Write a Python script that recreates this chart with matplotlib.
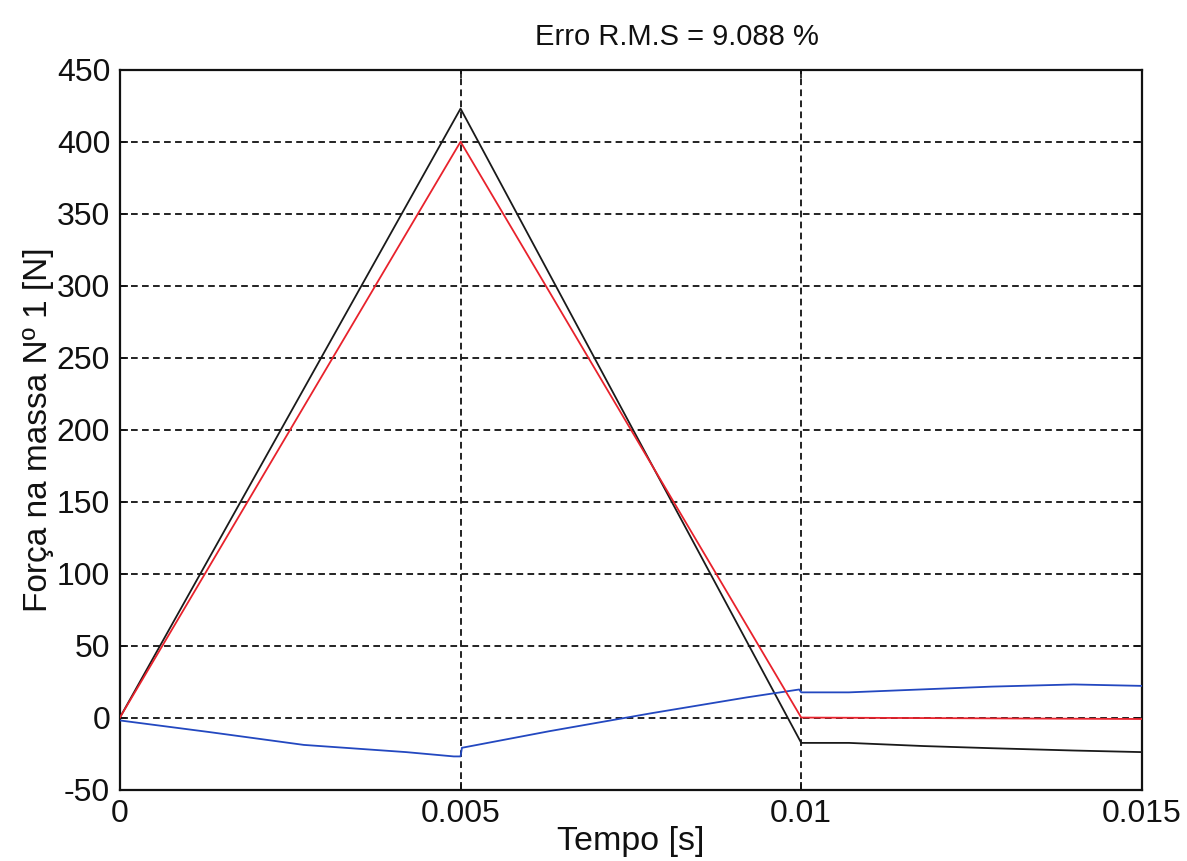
import matplotlib
matplotlib.use("Agg")
import matplotlib.pyplot as plt
from matplotlib.ticker import FixedLocator, FixedFormatter

plt.rcParams['font.family'] = ['Liberation Sans', 'DejaVu Sans']
plt.rcParams['axes.unicode_minus'] = False

# Measured force (black), model force (red) and difference signal (blue)
t_medido = [0.0, 0.0050, 0.0100, 0.0107, 0.0118, 0.0128, 0.0140, 0.0150]
f_medido = [0.0, 423.0, -17.6, -17.6, -19.8, -21.3, -22.9, -24.0]

t_modelo = [0.0, 0.0050, 0.0100, 0.0150]
f_modelo = [0.0, 400.0, 0.0, -1.0]

t_erro = [0.0, 0.0013, 0.0027, 0.0042, 0.0049, 0.0050, 0.00502, 0.0063,
          0.0078, 0.0092, 0.00997, 0.0100, 0.0107, 0.0118, 0.0128, 0.0140, 0.0150]
f_erro = [-2.0, -10.0, -19.0, -24.0, -27.0, -27.0, -21.0, -9.5,
          3.0, 14.0, 19.5, 17.5, 17.5, 19.6, 21.5, 23.0, 22.0]

x_ticks = [0.0, 0.005, 0.01, 0.015]
x_tick_labels = ['0', '0.005', '0.01', '0.015']
y_ticks = [-50, 0, 50, 100, 150, 200, 250, 300, 350, 400, 450]

titulo = 'Erro R.M.S = 9.088 %'
rotulo_x = 'Tempo [s]'
rotulo_y = 'Força na massa Nº 1 [N]'

fig = plt.figure(figsize=(11.87, 8.61), dpi=100)
ax = fig.add_axes([0.101, 0.083, 0.861, 0.836])

ax.plot(t_medido, f_medido, color='#1a1a1a', lw=1.3, zorder=3)
ax.plot(t_modelo, f_modelo, color='#e8222c', lw=1.3, zorder=4)
ax.plot(t_erro, f_erro, color='#2348c0', lw=1.3, zorder=3)

ax.set_xlim(0, 0.015)
ax.set_ylim(-50, 450)
ax.xaxis.set_major_locator(FixedLocator(x_ticks))
ax.xaxis.set_major_formatter(FixedFormatter(x_tick_labels))
ax.yaxis.set_major_locator(FixedLocator(y_ticks))

ax.grid(True, color='#111111', lw=1.3, ls=(0, (3.7, 2.4)), zorder=1)
ax.tick_params(direction='in', length=6, width=1.2, top=True, right=True,
               labelsize=23, pad=7, colors='#111111')
for s in ax.spines.values():
    s.set_linewidth(1.6)
    s.set_color('#111111')

ax.set_title(titulo, fontsize=21, pad=18, x=0.545, color='#111111')
ax.set_xlabel(rotulo_x, fontsize=24.5, labelpad=-2, color='#111111')
ax.set_ylabel(rotulo_y, fontsize=24, labelpad=2, color='#111111')

fig.savefig('out.png', dpi=100, facecolor='white')
